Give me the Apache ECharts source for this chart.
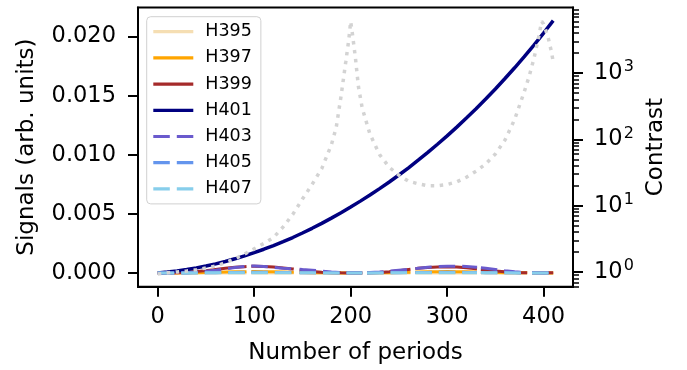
<!DOCTYPE html>
<html lang="en">
<head>
    <meta charset="UTF-8">
    <title>Harmonic signals and contrast</title>
    <script src="https://cdn.jsdelivr.net/npm/echarts@6/dist/echarts.min.js"></script>
</head>
<body style="margin: 0">
<div id="chart" style="width: 687px;height: 370px"></div>

<script>
    // x values
    let periods = [0, 10, 20, 30, 40, 50, 60, 70, 80, 90, 100, 110, 120, 130, 140, 150, 160, 170, 180, 190,
        200, 210, 220, 230, 240, 250, 260, 270, 280, 290, 300, 310, 320, 330, 340, 350, 360, 370, 380, 390, 400, 410];
    // the low harmonics are broken (null) at a few places
    let lowPeriods = [0, 10, 20, 30, 40, 50, 60, 70, 80, 90, 92, 94, 97, 100, 110, 120, 130, 140, 141, 144,
        147, 150, 160, 170, 180, 190, 200, 210, 212, 215, 217, 220, 230, 240, 250, 260, 262, 265, 267, 270,
        280, 290, 300, 310, 320, 330, 331, 333, 335, 340, 350, 360, 370, 380, 383, 386, 388, 390, 400, 410];
    let contrastPeriods = [0, 10, 20, 30, 40, 50, 60, 70, 80, 90, 100, 110, 120, 130, 140, 150, 160, 170, 180, 185,
        190, 195, 198, 200, 202, 205, 208, 212, 220, 230, 240, 250, 260, 270, 280, 290, 300, 310, 320, 330,
        340, 350, 360, 370, 380, 385, 390, 395, 398, 400, 402, 405, 408, 410];

    // signals (arb. units)
    let h401 = [0, 0.00008, 0.00017, 0.00029, 0.00043, 0.00059, 0.00077, 0.00097, 0.0012, 0.00145,
        0.00172, 0.00201, 0.00232, 0.00265, 0.003, 0.00338, 0.00378, 0.0042, 0.00464, 0.0051,
        0.00558, 0.00608, 0.0066, 0.00714, 0.0077, 0.00829, 0.0089, 0.00954, 0.0102, 0.01089,
        0.0116, 0.01234, 0.01311, 0.0139, 0.01472, 0.01557, 0.01645, 0.01736, 0.0183, 0.01928,
        0.0203, 0.02135];
    let h395 = [0, 0, 0, 0, 0, 0, 0, 0, 0, 0, 0, null, 0, 0, 0, 0, 0, 0, 0, null,
        0, 0, 0, 0, 0, 0, 0, 0, 0, null, 0, 0, 0, 0, 0, 0, 0, null, 0, 0,
        0, 0, 0, 0, 0, 0, 0, null, 0, 0, 0, 0, 0, 0, 0, null, 0, 0, 0, 0];
    let h397 = [0, 0, 0, 0.00001, 0.00002, 0.00004, 0.00006, 0.00008, 0.0001, 0.00011,
        0.00011, null, 0.00012, 0.00012, 0.00011, 0.0001, 0.00008, 0.00006, 0.00006, null,
        0.00005, 0.00004, 0.00003, 0.00002, 0.00001, 0, 0, 0, 0, null,
        0, 0.00001, 0.00002, 0.00003, 0.00005, 0.00007, 0.00007, null, 0.00008, 0.00009,
        0.0001, 0.00011, 0.00012, 0.00011, 0.0001, 0.00008, 0.00008, null, 0.00007, 0.00006,
        0.00004, 0.00003, 0.00002, 0.00001, 0.00001, null, 0, 0, 0, 0];
    let h399 = [0, 0, 0.00002, 0.00006, 0.00012, 0.0002, 0.0003, 0.0004, 0.00048, 0.00053,
        0.00054, null, 0.00056, 0.00056, 0.00055, 0.00051, 0.00043, 0.00034, 0.00033, null,
        0.00026, 0.00023, 0.00012, 0.00006, 0.00003, 0.00001, 0, 0, 0, null,
        0.00001, 0.00002, 0.00005, 0.0001, 0.0002, 0.0003, 0.00032, null, 0.00037, 0.0004,
        0.00047, 0.0005, 0.00051, 0.0005, 0.00045, 0.00036, 0.00035, null, 0.0003, 0.00025,
        0.00017, 0.0001, 0.00005, 0.00003, 0.00002, null, 0.00002, 0.00002, 0.00002, 0.00003];
    let h403 = [0, 0, 0.00001, 0.00003, 0.00007, 0.00014, 0.00024, 0.00035, 0.00046, 0.00055,
        0.00057, null, 0.00059, 0.00059, 0.00055, 0.00048, 0.00041, 0.00035, 0.00034, null,
        0.00031, 0.00029, 0.00023, 0.00016, 0.00009, 0.00004, 0.00001, 0.00001, 0.00001, null,
        0.00003, 0.00004, 0.00009, 0.00015, 0.00023, 0.00031, 0.00033, null, 0.00037, 0.0004,
        0.00049, 0.00055, 0.00058, 0.00058, 0.00055, 0.00049, 0.00048, null, 0.00045, 0.0004,
        0.0003, 0.0002, 0.0001, 0.00003, 0.00002, null, 0.00001, 0.00001, 0, 0.00002];
    let h405 = [0, 0, 0, 0, 0.00001, 0.00002, 0.00003, 0.00004, 0.00005, 0.00006,
        0.00006, null, 0.00006, 0.00006, 0.00006, 0.00005, 0.00004, 0.00003, 0.00003, null,
        0.00003, 0.00002, 0.00002, 0.00001, 0.00001, 0, 0, 0, 0, null,
        0, 0, 0.00001, 0.00002, 0.00003, 0.00004, 0.00004, null, 0.00004, 0.00005,
        0.00005, 0.00006, 0.00006, 0.00006, 0.00005, 0.00004, 0.00004, null, 0.00004, 0.00003,
        0.00002, 0.00002, 0.00001, 0, 0, null, 0, 0, 0, 0];
    let h407 = [0, 0, 0, 0, 0, 0.00001, 0.00001, 0.00001, 0.00002, 0.00002,
        0.00002, null, 0.00002, 0.00002, 0.00002, 0.00002, 0.00001, 0.00001, 0.00001, null,
        0.00001, 0.00001, 0.00001, 0, 0, 0, 0, 0, 0, null,
        0, 0, 0, 0.00001, 0.00001, 0.00001, 0.00001, null, 0.00001, 0.00001,
        0.00002, 0.00002, 0.00002, 0.00002, 0.00002, 0.00001, 0.00001, null, 0.00001, 0.00001,
        0.00001, 0.00001, 0, 0, 0, null, 0, 0, 0, 0];

    // contrast (log axis on the right)
    let contrast = [0.93, 0.97, 1.0, 1.035, 1.08, 1.15, 1.23, 1.38, 1.58, 1.86,
        2.24, 2.69, 3.31, 4.79, 7.41, 12.6, 20.9, 36.3, 83, 151,
        447, 1510, 3160, 6030, 3720, 1660, 631, 295, 120, 58.9,
        38, 28.8, 23.4, 21.4, 20, 20, 20.9, 22.9, 26.9, 33.1,
        42.7, 60.3, 98, 200, 525, 891, 1660, 3550, 6030, 5500,
        4570, 3310, 2140, 1480];

    let xTicks = [0, 100, 200, 300, 400];
    let signalTicks = [0, 0.005, 0.01, 0.015, 0.02];
    let contrastDecades = [0, 1, 2, 3];

    let names = ['H395', 'H397', 'H399', 'H401', 'H403', 'H405', 'H407'];
    let colors = ['#f5deb3', '#ffa500', '#a52a2a', '#000080', '#6a5acd', '#6495ed', '#87ceeb'];
    let lowData = {H395: h395, H397: h397, H399: h399, H403: h403, H405: h405, H407: h407};

    const font = 'DejaVu Sans';
    const logMin = -0.222, logMax = 3.99;
    const dash = [16.5, 7];

    let minorTicks = [];
    for (let n = -1; n <= 3; n++) {
        for (let m = 2; m <= 9; m++) {
            let v = Math.log10(m * Math.pow(10, n));
            if (v > logMin && v < logMax) minorTicks.push(v);
        }
    }

    let series = names.map(function (name, i) {
        let data;
        if (name === 'H401') {
            data = periods.map((p, k) => [p, h401[k]]);
        } else {
            data = lowPeriods.map((p, k) => [p, lowData[name][k] === null ? '-' : lowData[name][k]]);
        }
        return {
            name: name,
            type: 'line',
            data: data,
            symbol: 'none',
            color: colors[i],
            lineStyle: {
                color: colors[i],
                width: name === 'H401' ? 3.5 : 3,
                type: i > 3 ? dash : 'solid',
                cap: 'butt'
            },
            z: 2 + i * 0.01
        };
    });
    series.push({
        name: 'Contrast',
        type: 'line',
        yAxisIndex: 1,
        data: contrastPeriods.map((p, k) => [p, Math.log10(contrast[k])]),
        symbol: 'none',
        lineStyle: {color: '#d3d3d3', width: 3.5, type: [3.5, 5.5], cap: 'butt'},
        z: 3
    });

    let legendData = names.map((name, i) => ({
        name: name,
        itemStyle: {opacity: 0},
        lineStyle: {color: colors[i], width: 3.2, type: i > 3 ? dash : 'solid', cap: 'butt'}
    }));

    let chart = echarts.init(document.getElementById('chart'));
    let option = {
        animation: false,
        textStyle: {fontFamily: font},
        grid: {
            left: 138, right: 114, top: 7.5, bottom: 83.3,
            show: true, borderColor: '#000', borderWidth: 2,
            containLabel: false, outerBoundsMode: 'none'
        },
        legend: {
            data: legendData,
            orient: 'vertical',
            left: 146.7,
            top: 16.7,
            padding: [6, 9, 6, 5],
            itemWidth: 40,
            itemHeight: 14,
            itemGap: 8.2,
            itemStyle: {opacity: 0},
            backgroundColor: 'rgba(255,255,255,0.8)',
            borderColor: '#d0d0d0',
            borderWidth: 1,
            borderRadius: 4,
            textStyle: {fontFamily: font, fontSize: 17.5, color: '#000', padding: [0, 0, 0, 7]}
        },
        xAxis: {
            type: 'value',
            min: -20.5,
            max: 430.5,
            name: 'Number of periods',
            nameLocation: 'middle',
            nameGap: 55,
            nameTextStyle: {fontFamily: font, fontSize: 23, color: '#000'},
            axisLine: {show: true, onZero: false, lineStyle: {color: '#000', width: 2}},
            axisTick: {show: true, length: 10, lineStyle: {color: '#000', width: 2}, customValues: xTicks},
            axisLabel: {fontFamily: font, fontSize: 22.5, color: '#000', margin: 19, customValues: xTicks},
            splitLine: {show: false}
        },
        yAxis: [
            {
                type: 'value',
                min: -0.00116,
                max: 0.02246,
                name: 'Signals (arb. units)',
                nameLocation: 'middle',
                nameRotate: 90,
                nameGap: 99,
                nameTextStyle: {fontFamily: font, fontSize: 23, color: '#000'},
                axisLine: {show: true, onZero: false, lineStyle: {color: '#000', width: 2}},
                axisTick: {show: true, length: 10, lineStyle: {color: '#000', width: 2}, customValues: signalTicks},
                axisLabel: {
                    fontFamily: font, fontSize: 22.5, color: '#000', margin: 22,
                    customValues: signalTicks,
                    formatter: v => v.toFixed(3)
                },
                splitLine: {show: false}
            },
            {
                type: 'value',
                position: 'right',
                min: logMin,
                max: logMax,
                name: 'Contrast',
                nameLocation: 'middle',
                nameRotate: 90,
                nameGap: 71,
                nameTextStyle: {fontFamily: font, fontSize: 23, color: '#000'},
                axisLine: {show: true, onZero: false, lineStyle: {color: '#000', width: 2}},
                axisTick: {show: true, length: 10, lineStyle: {color: '#000', width: 2}, customValues: contrastDecades},
                axisLabel: {
                    margin: 21,
                    customValues: contrastDecades,
                    formatter: v => '{b|10}{s|' + Math.round(v) + '}',
                    rich: {
                        b: {fontFamily: font, fontSize: 22.5, color: '#000'},
                        s: {fontFamily: font, fontSize: 16, color: '#000', padding: [0, 0, 12, 1]}
                    }
                },
                splitLine: {show: false}
            },
            {
                // minor log ticks
                type: 'value',
                position: 'right',
                min: logMin,
                max: logMax,
                axisLine: {show: false, onZero: false},
                axisTick: {show: true, length: 6, lineStyle: {color: '#000', width: 1.5}, customValues: minorTicks},
                axisLabel: {show: false},
                splitLine: {show: false}
            }
        ],
        series: series
    };
    chart.setOption(option);
</script>
</body>
</html>
